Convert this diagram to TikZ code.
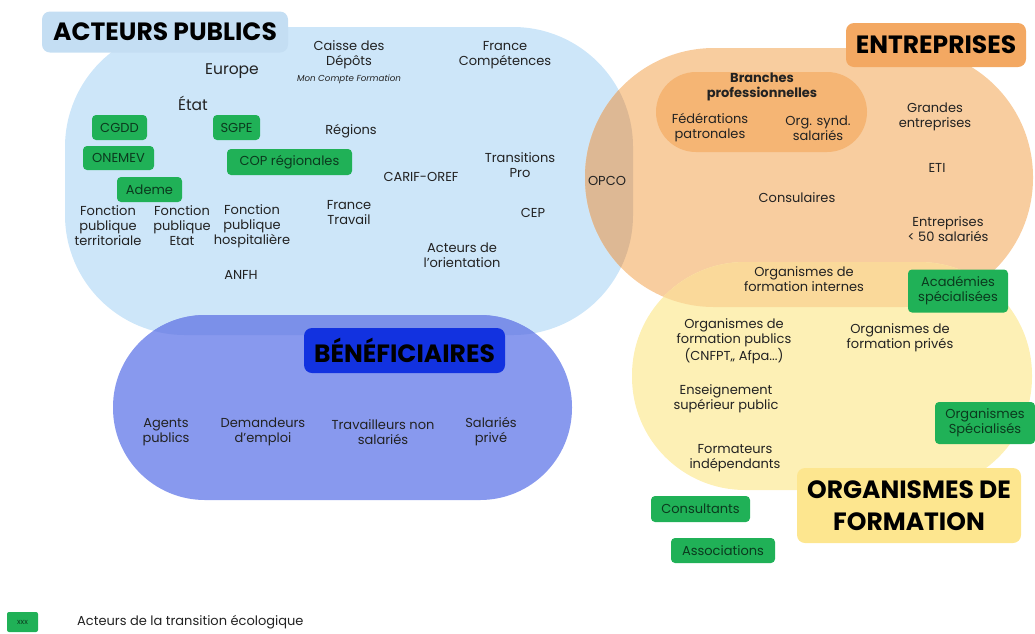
\documentclass[tikz,border=0pt]{standalone}
\usepackage{fontspec}
\setmainfont{Poppins}
\definecolor{bluec}{HTML}{CDE6F9}
\definecolor{bluetitle}{HTML}{C4DEF3}
\definecolor{orangec}{HTML}{F8CD9F}
\definecolor{orangetitle}{HTML}{F3A862}
\definecolor{pillc}{HTML}{F5B574}
\definecolor{opcoc}{HTML}{DDB894}
\definecolor{yellowc}{HTML}{FDF0B5}
\definecolor{yellowtitle}{HTML}{FDE68F}
\definecolor{yoc}{HTML}{FAD99A}
\definecolor{purplec}{HTML}{8899EE}
\definecolor{purpledark}{HTML}{7B90E9}
\definecolor{benefc}{HTML}{1232E0}
\definecolor{greenc}{HTML}{20B157}
\definecolor{greentxt}{HTML}{0B3A1E}
\definecolor{txt}{HTML}{222222}
\newcommand\bodyfont{\fontsize{13}{15}\selectfont}
\newcommand\bigfont{\fontsize{15.5}{18}\selectfont}
\newcommand\titlefont{\fontsize{25}{28}\selectfont\bfseries}
\tikzset{
  lbl/.style={font=\bodyfont, align=center, inner sep=0pt, text=txt},
  gbox/.style={fill=greenc, rounded corners=4pt, font=\bodyfont, align=center, inner sep=0pt, text=greentxt},
  tbox/.style={rounded corners=8pt, font=\titlefont, align=center, inner sep=0pt, text=black},
}
\begin{document}
\begin{tikzpicture}[x=1pt,y=-1pt]
\useasboundingbox (0,0) rectangle (1035,633);
% blobs
\fill[bluec] (65,27) [rounded corners=120pt] rectangle (633,335);
\fill[purplec] (113,315) [rounded corners=92pt] rectangle (572,500);
\begin{scope}
  \clip (65,27) [rounded corners=120pt] rectangle (633,335);
  \fill[purpledark] (113,315) [rounded corners=92pt] rectangle (572,500);
\end{scope}
\fill[orangec] (585,48) [rounded corners=129pt] rectangle (1033,307);
\begin{scope}
  \clip (65,27) [rounded corners=120pt] rectangle (633,335);
  \fill[opcoc] (585,48) [rounded corners=129pt] rectangle (1033,307);
\end{scope}
\fill[yellowc] (632,262) [rounded corners=113pt] rectangle (1032,490);
\begin{scope}
  \clip (585,48) [rounded corners=129pt] rectangle (1033,307);
  \fill[yoc] (632,262) [rounded corners=113pt] rectangle (1032,490);
\end{scope}
\fill[pillc] (656,72) [rounded corners=40pt] rectangle (867,152);

% title boxes
\node[tbox, fill=bluetitle, minimum width=246pt, minimum height=41pt] (tpub) at (165,32) {ACTEURS PUBLICS};
\node[tbox, fill=orangetitle, minimum width=180pt, minimum height=44pt] (tent) at (936,45) {ENTREPRISES};
\node[tbox, fill=benefc, minimum width=201pt, minimum height=45pt] (tben) at (404.5,350.5) {BÉNÉFICIAIRES};
\node[tbox, fill=yellowtitle, minimum width=224pt, minimum height=75pt, font=\fontsize{25}{32}\selectfont\bfseries] (tform) at (909,505.5) {ORGANISMES DE\\FORMATION};

% acteurs publics
\node[lbl, font=\bigfont] (europe) at (232,71) {Europe};
\node[lbl, font=\bigfont] (etat) at (193,103) {État};
\node[lbl] (cdc) at (349,55) {Caisse des\\Dépôts};
\node[lbl, font=\fontsize{8.7}{10}\selectfont\itshape] (mcf) at (349,79) {Mon Compte Formation};
\node[lbl] (fcomp) at (505,55) {France\\Compétences};
\node[lbl] (regions) at (351,131) {Régions};
\node[lbl] (carif) at (421,177) {CARIF-OREF};
\node[lbl] (tpro) at (520,165) {Transitions\\Pro};
\node[lbl] (ftrav) at (349,213) {France\\Travail};
\node[lbl] (cep) at (533,213) {CEP};
\node[lbl] (orient) at (462,255) {Acteurs de\\l’orientation};
\node[lbl] (fpt) at (108,226) {Fonction\\publique\\territoriale};
\node[lbl] (fpe) at (182,226) {Fonction\\publique\\Etat};
\node[lbl] (fph) at (252,226) {Fonction\\publique\\hospitalière};
\node[lbl] (anfh) at (241,275) {ANFH};
\node[gbox, minimum width=55pt, minimum height=25pt] (cgdd) at (119.5,127.5) {CGDD};
\node[gbox, minimum width=47pt, minimum height=25pt] (sgpe) at (236.5,127.5) {SGPE};
\node[gbox, minimum width=71pt, minimum height=24pt] (onemev) at (118.5,158) {ONEMEV};
\node[gbox, minimum width=125pt, minimum height=26pt] (cop) at (289.5,162) {COP régionales};
\node[gbox, minimum width=65pt, minimum height=25pt] (ademe) at (149.5,189.5) {Ademe};

% entreprises
\node[lbl] (opco) at (607,181) {OPCO};
\node[lbl, font=\bodyfont\bfseries] (branches) at (762,87) {Branches\\professionnelles};
\node[lbl] (feder) at (710,128) {Fédérations\\patronales};
\node[lbl] (orgsynd) at (818,128) {Org. synd.\\salariés};
\node[lbl] (grandes) at (935,117) {Grandes\\entreprises};
\node[lbl] (eti) at (937,168) {ETI};
\node[lbl] (consul) at (797,198) {Consulaires};
\node[lbl] (pme) at (948,229) {Entreprises\\< 50 salariés};

% organismes de formation
\node[lbl] (ofint) at (804,279) {Organismes de\\formation internes};
\node[gbox, minimum width=100pt, minimum height=43pt] (acad) at (958,291) {Académies\\spécialisées};
\node[lbl] (ofpub) at (734,341) {Organismes de\\formation publics\\(CNFPT,, Afpa...)};
\node[lbl] (ofpriv) at (900,338) {Organismes de\\formation privés};
\node[lbl] (ens) at (726,399) {Enseignement\\supérieur public};
\node[gbox, minimum width=100pt, minimum height=42pt] (orgspe) at (985,423) {Organismes\\Spécialisés};
\node[lbl] (formind) at (735,458) {Formateurs\\indépendants};
\node[gbox, minimum width=99pt, minimum height=26pt] (consult) at (700.5,509) {Consultants};
\node[gbox, minimum width=104pt, minimum height=25pt] (assoc) at (723,550.5) {Associations};

% beneficiaires
\node[lbl] (agents) at (166,432) {Agents\\publics};
\node[lbl] (demand) at (263,432) {Demandeurs\\d’emploi};
\node[lbl] (tns) at (383,432) {Travailleurs non\\salariés};
\node[lbl] (salp) at (491,432) {Salariés\\privé};

% legend
\node[gbox, minimum width=31pt, minimum height=20pt, font=\fontsize{7.5}{8}\selectfont, rounded corners=2pt] (legbox) at (22.5,622) {xxx};
\node[lbl, anchor=west] (legtxt) at (77,622) {Acteurs de la transition écologique};
\end{tikzpicture}
\end{document}
